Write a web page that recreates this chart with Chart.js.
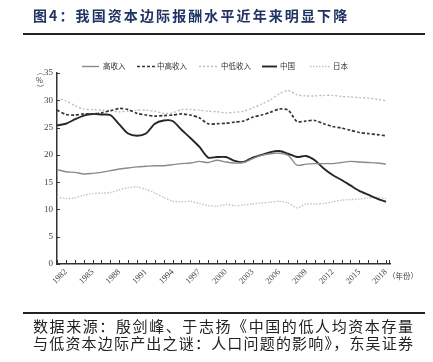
<!DOCTYPE html>
<html><head><meta charset="utf-8">
<script src="https://cdn.jsdelivr.net/npm/chart.js@4/dist/chart.umd.min.js"></script>
<style>
html,body{margin:0;padding:0;background:#fff;}
#wrap{position:relative;width:433px;height:362px;overflow:hidden;background:#fff;}
#c{position:absolute;left:0;top:0;}
.t{position:absolute;white-space:nowrap;}
.j{position:absolute;left:33px;width:380px;font:15px 'Noto Sans CJK SC';color:#222;text-align:justify;text-align-last:justify;text-justify:inter-character;line-height:18px;}
</style></head><body>
<div id="wrap">
<canvas id="c" width="433" height="362"></canvas>
<div class="t" style="left:33px;top:5px;font:bold 14px 'Noto Sans CJK SC';letter-spacing:2.1px;color:#1f3263;">图4：我国资本边际报酬水平近年来明显下降</div>
<div style="position:absolute;left:23px;top:33px;width:402px;height:2px;background:#222"></div>
<div style="position:absolute;left:23px;top:312px;width:402px;height:2px;background:#222"></div>
<div class="j" style="top:317px;">数据来源：殷剑峰、于志扬《中国的低人均资本存量</div>
<div class="j" style="top:334px;">与低资本边际产出之谜：人口问题的影响》，东吴证券</div>
</div>
<script>
const years = [1981,1982,1983,1984,1985,1986,1987,1988,1989,1990,1991,1992,1993,1994,1995,1996,1997,1998,1999,2000,2001,2002,2003,2004,2005,2006,2007,2008,2009,2010,2011,2012,2013,2014,2015,2016,2017,2018];
const seriesNames = ['高收入','中高收入','中低收入','中国','日本'];
const highIncome = [17.3,16.9,16.8,16.5,16.6,16.8,17.1,17.4,17.6,17.8, 17.9,18.0,18.0,18.2,18.4,18.5,18.8,18.6,19.0,18.7, 18.5,18.6,19.3,19.9,20.2,20.3,19.9,18.1,18.3,18.4, 18.4,18.4,18.6,18.8,18.7,18.6,18.5,18.3];
const upperMiddle = [28.2,27.4,27.3,27.5,27.5,27.7,28.1,28.5,28.3,27.6, 27.3,27.1,27.2,27.3,27.5,27.3,26.8,25.7,25.7,25.8, 26.0,26.2,26.9,27.3,27.8,28.4,28.2,26.1,26.2,26.3, 25.7,25.2,24.9,24.5,24.1,23.9,23.7,23.5];
const lowerMiddle = [30.4,29.9,29.0,28.4,28.3,28.2,28.1,27.9,28.0,28.2, 28.2,28.0,27.6,27.7,28.3,28.3,28.2,28.0,27.9,27.7, 27.8,28.0,28.6,29.3,30.1,31.2,31.8,31.0,30.8,30.8, 30.9,30.9,30.7,30.6,30.5,30.4,30.2,29.9];
const china = [25.4,25.7,26.5,27.2,27.5,27.4,27.3,25.6,23.9,23.5, 23.9,25.7,26.3,26.2,24.6,23.1,21.5,19.5,19.6,19.6, 18.9,18.7,19.5,20.0,20.5,20.7,20.2,19.6,19.8,19.0, 17.5,16.3,15.4,14.4,13.4,12.7,12.0,11.4];
const japan = [12.3,12.0,12.1,12.6,12.9,13.0,13.1,13.6,14.0,14.1, 13.7,13.0,12.2,11.5,11.4,11.5,11.1,10.7,10.6,10.9, 10.7,10.8,11.0,11.2,11.3,11.5,11.2,10.3,11.0,11.0, 11.1,11.4,11.7,11.8,11.9,12.1,12.2,12.0];
const yTicks = [0,5,10,15,20,25,30,35];
const xLabelYears = [1982,1985,1988,1991,1994,1997,2000,2003,2006,2009,2012,2015,2018];

const styles = [
  {color:'#8a8a8a', width:1.4, dash:[]},
  {color:'#333333', width:1.7, dash:[3,2]},
  {color:'#bdbdbd', width:1.4, dash:[2,2]},
  {color:'#262626', width:1.9, dash:[]},
  {color:'#c4c4c4', width:1.4, dash:[1.5,1.5]}
];
const values = [highIncome, upperMiddle, lowerMiddle, china, japan];
const datasets = values.map((v,i)=>({
  label: seriesNames[i],
  data: years.map((y,j)=>({x:y, y:v[j]})),
  borderColor: styles[i].color,
  borderWidth: styles[i].width,
  borderDash: styles[i].dash,
  pointRadius: 0,
  tension: 0.25,
  fill: false
}));

const decor = {
  id:'decor',
  afterDraw(chart){
    const ctx = chart.ctx, xs = chart.scales.x, ys = chart.scales.y, a = chart.chartArea;
    ctx.save();
    ctx.strokeStyle = '#333'; ctx.lineWidth = 1;
    ctx.beginPath();
    years.forEach(y=>{ const px = Math.round(xs.getPixelForValue(y))+0.5; ctx.moveTo(px, a.bottom); ctx.lineTo(px, a.bottom-4); });
    ctx.moveTo(Math.round(a.right)-0.5, a.bottom); ctx.lineTo(Math.round(a.right)-0.5, a.bottom-4);
    yTicks.forEach(v=>{ const py = Math.round(ys.getPixelForValue(v))+0.5; ctx.moveTo(a.left, py); ctx.lineTo(a.left+3, py); });
    ctx.stroke();
    const items = [
      {x1:82,x2:99,tx:103},
      {x1:137,x2:155,tx:157},
      {x1:199,x2:219,tx:221},
      {x1:262,x2:277,tx:280},
      {x1:310,x2:330,tx:333}
    ];
    const ly = 66.5;
    ctx.font = "7.5px 'Noto Sans CJK SC'";
    ctx.textBaseline = 'middle';
    ctx.fillStyle = '#333';
    items.forEach((it,i)=>{
      ctx.beginPath();
      ctx.strokeStyle = styles[i].color;
      ctx.lineWidth = styles[i].width;
      ctx.setLineDash(styles[i].dash);
      ctx.moveTo(it.x1, ly); ctx.lineTo(it.x2, ly);
      ctx.stroke();
      ctx.setLineDash([]);
      ctx.fillText(seriesNames[i], it.tx, ly);
    });
    ctx.fillStyle = '#444';
    ctx.font = "7.5px 'Noto Sans CJK SC'";
    ctx.textBaseline = 'middle';
    ctx.fillText('（年份）', 388, 276);
    ctx.save();
    ctx.translate(39.5, 80);
    ctx.rotate(Math.PI/2);
    ctx.textAlign = 'center';
    ctx.fillText('（', -8, 0);
    ctx.fillText('）', 8, 0);
    ctx.restore();
    ctx.textAlign = 'center';
    ctx.fillText('%', 39.5, 80);
    ctx.restore();
  }
};

new Chart(document.getElementById('c'), {
  type:'line',
  data:{datasets},
  options:{
    responsive:false,
    animation:false,
    layout:{padding:{left:0, right:43, top:73, bottom:0}},
    plugins:{legend:{display:false}, tooltip:{enabled:false}},
    scales:{
      x:{
        type:'linear', min:1981, max:2018.45,
        grid:{display:false, drawTicks:false},
        border:{display:true, color:'#333', width:1.5},
        afterFit(s){ s.height = 98; },
        afterBuildTicks(s){ s.ticks = xLabelYears.map(v=>({value:v})); },
        ticks:{
          autoSkip:false, maxRotation:45, minRotation:45, padding:3,
          color:'#444', font:{family:'Liberation Serif', size:8.5},
          callback:(v)=> String(v)
        }
      },
      y:{
        min:0, max:35,
        grid:{display:false, drawTicks:false},
        border:{display:true, color:'#333', width:1.5},
        afterFit(s){ s.width = 57; },
        afterBuildTicks(s){ s.ticks = yTicks.map(v=>({value:v})); },
        ticks:{padding:4, color:'#444', font:{family:'Liberation Serif', size:9}}
      }
    }
  },
  plugins:[decor]
});
</script>
</body></html>
